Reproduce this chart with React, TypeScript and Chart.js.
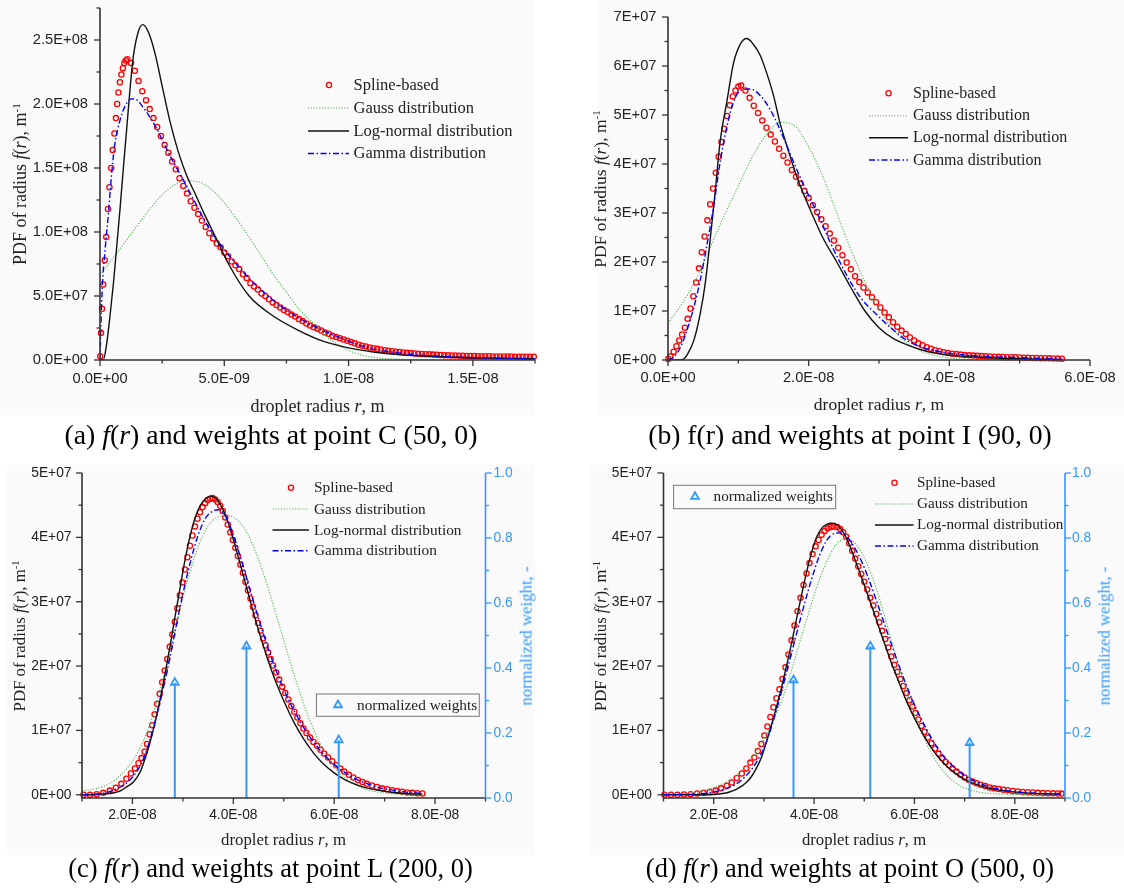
import React, { useEffect, useRef } from "react";
import { Chart, registerables } from "chart.js";

Chart.register(...registerables);

// ===== Data: r in nm (1E-09 m), f in 1E+07 m^-1, weights normalized =====
// (a) point C (50, 0)
const aSplineR = [0.01, 0.04, 0.08, 0.13, 0.19, 0.25, 0.32, 0.38, 0.45, 0.51, 0.58, 0.64, 0.69, 0.74, 0.8, 0.86, 0.92, 0.98, 1.04, 1.1,
  1.25, 1.4, 1.55, 1.7, 1.85, 2.0, 2.15, 2.3, 2.45, 2.6, 2.75, 2.9, 3.05, 3.2, 3.35, 3.5, 3.65, 3.8, 3.95, 4.1, 4.25, 4.4, 4.55, 4.7, 4.85,
  5.0, 5.15, 5.3, 5.45, 5.6, 5.75, 5.9, 6.05, 6.2, 6.35, 6.5, 6.65, 6.8, 6.95, 7.1, 7.25, 7.4, 7.55, 7.7, 7.85, 8.0, 8.15, 8.3, 8.45, 8.6,
  8.75, 8.9, 9.05, 9.2, 9.35, 9.5, 9.65, 9.8, 9.95, 10.1, 10.25, 10.4, 10.55, 10.7, 10.85, 11.0, 11.15, 11.3, 11.45, 11.6, 11.75, 11.9,
  12.05, 12.2, 12.35, 12.5, 12.65, 12.8, 12.95, 13.1, 13.25, 13.4, 13.55, 13.7, 13.85, 14.0, 14.15, 14.3, 14.45, 14.6, 14.75, 14.9, 15.05,
  15.2, 15.35, 15.5, 15.65, 15.8, 15.95, 16.1, 16.25, 16.4, 16.55, 16.7, 16.85, 17.0, 17.15, 17.3, 17.45];
const aSplineF = [0.3, 2.1, 4.0, 5.9, 7.8, 9.6, 11.8, 13.5, 15.0, 16.4, 17.7, 18.9, 20.0, 20.9, 21.7, 22.3, 22.8, 23.2, 23.4, 23.5,
  23.2, 22.6, 21.8, 21.0, 20.3, 19.6, 18.9, 18.2, 17.5, 16.8, 16.2, 15.5, 14.9, 14.2, 13.6, 13.0, 12.4, 11.9, 11.4, 10.9,
  10.4, 9.9, 9.5, 9.1, 8.8, 8.4, 8.1, 7.7, 7.4, 7.1, 6.7, 6.4, 6.0, 5.75, 5.5, 5.2, 5.0, 4.75, 4.5, 4.3,
  4.1, 3.9, 3.75, 3.55, 3.4, 3.2, 3.05, 2.85, 2.7, 2.55, 2.45, 2.3, 2.15, 2.05, 1.9, 1.8, 1.7, 1.6, 1.5, 1.4,
  1.3, 1.2, 1.12, 1.05, 0.98, 0.92, 0.87, 0.82, 0.77, 0.73, 0.69, 0.65, 0.62, 0.59, 0.56, 0.54, 0.51, 0.49, 0.47, 0.45,
  0.44, 0.42, 0.41, 0.4, 0.38, 0.37, 0.36, 0.35, 0.34, 0.33, 0.32, 0.31, 0.31, 0.3, 0.3, 0.29, 0.29, 0.28, 0.28, 0.28,
  0.27, 0.27, 0.27, 0.26, 0.26, 0.26, 0.26, 0.25, 0.25];
const aGaussR = [0, 0.5, 1.0, 1.5, 2.0, 2.5, 3.0, 3.5, 4.0, 4.5, 5.0, 5.5, 6.0, 6.5, 7.0, 7.5, 8.0, 8.5, 9.0, 9.5, 10.0, 10.5, 11.0, 12.0, 13.0, 14.0, 17.5];
const aGaussF = [6.6, 7.9, 9.2, 10.5, 11.8, 12.9, 13.7, 14.0, 13.9, 13.3, 12.3, 11.0, 9.6, 8.1, 6.6, 5.3, 4.0, 3.0, 2.0, 1.3, 0.75, 0.4, 0.2, 0.06, 0.02, 0, 0];
const aLogR = [0, 0.13, 0.27, 0.4, 0.54, 0.67, 0.81, 0.94, 1.08, 1.21, 1.34, 1.55, 1.72, 1.95, 2.22, 2.49, 2.82, 3.16, 3.49, 3.8, 4.2, 4.6, 5.2, 6.0, 7.0, 8.0, 9.0, 10.0, 11.0, 12.0, 13.5, 15.0, 17.5];
const aLogF = [0, 0, 1.3, 3.4, 6.0, 8.8, 11.9, 15.0, 18.2, 21.2, 23.7, 25.7, 26.2, 25.6, 23.9, 21.5, 18.6, 16.2, 14.4, 13.1, 11.4, 9.8, 7.4, 5.0, 3.4, 2.3, 1.45, 0.95, 0.63, 0.42, 0.27, 0.18, 0.1];
const aGammaR = [0, 0.05, 0.1, 0.2, 0.34, 0.47, 0.6, 0.8, 1.0, 1.28, 1.5, 1.75, 2.0, 2.3, 2.6, 3.0, 3.4, 3.8, 4.3, 4.85, 5.8, 6.7, 7.5, 8.5, 9.4, 10.7, 12.1, 14.7, 17.5];
const aGammaF = [0, 3.5, 6.0, 8.5, 11.5, 14.6, 16.9, 18.7, 19.8, 20.4, 20.3, 19.7, 19.0, 18.0, 16.8, 15.3, 13.9, 12.4, 10.6, 9.0, 6.8, 5.1, 3.9, 2.75, 1.95, 1.0, 0.53, 0.2, 0.08];

// (b) point I (90, 0)
const bSplineR = [0.05, 0.35, 0.8, 1.2, 1.6, 2.0, 2.4, 2.8, 3.2, 3.6, 4.0, 4.4, 4.8, 5.2, 5.6, 6.0, 6.4, 6.8, 7.2, 7.6, 8.0, 8.4, 8.8, 9.2, 9.6, 10.0, 10.4,
  11.0, 11.6, 12.2, 12.8, 13.4, 14.0, 14.6, 15.2, 15.8, 16.4, 17.0, 17.6, 18.2, 18.8, 19.4, 20.0, 20.6, 21.2, 21.8, 22.4, 23.0, 23.6, 24.2,
  24.8, 25.4, 26.0, 26.6, 27.2, 27.8, 28.4, 29.0, 29.6, 30.2, 30.8, 31.4, 32.0, 32.6, 33.2, 33.8, 34.4, 35.0, 35.6, 36.2, 36.8, 37.4, 38.0,
  38.6, 39.2, 39.8, 40.4, 41.0, 41.6, 42.2, 42.8, 43.4, 44.0, 44.6, 45.2, 45.8, 46.4, 47.0, 47.6, 48.2, 48.8, 49.4, 50.0, 50.6, 51.2, 51.8,
  52.4, 53.0, 53.6, 54.2, 54.8, 55.4, 56.0];
const bSplineF = [0.02, 0.07, 0.17, 0.28, 0.4, 0.52, 0.66, 0.84, 1.05, 1.3, 1.58, 1.87, 2.2, 2.52, 2.85, 3.18, 3.5, 3.82, 4.15, 4.45, 4.72, 4.98, 5.2, 5.38, 5.5, 5.58, 5.6,
  5.5, 5.35, 5.19, 5.04, 4.89, 4.74, 4.6, 4.46, 4.31, 4.17, 4.03, 3.88, 3.74, 3.6, 3.45, 3.31, 3.16, 3.02, 2.87, 2.73, 2.58, 2.44, 2.29,
  2.14, 1.99, 1.85, 1.71, 1.59, 1.48, 1.38, 1.28, 1.18, 1.07, 0.97, 0.87, 0.77, 0.68, 0.6, 0.53, 0.46, 0.4, 0.34, 0.3, 0.26, 0.23, 0.2,
  0.18, 0.16, 0.145, 0.13, 0.12, 0.11, 0.1, 0.095, 0.09, 0.085, 0.08, 0.075, 0.07, 0.067, 0.064, 0.061, 0.058, 0.056, 0.054, 0.051, 0.048,
  0.046, 0.043, 0.041, 0.038, 0.036, 0.034, 0.031, 0.029, 0.027];
const bGaussR = [0, 2, 4, 6, 8, 10, 12, 14, 16, 18, 20, 22, 24, 26, 28, 30, 32, 34, 36, 38, 40, 44, 56];
const bGaussF = [0.75, 1.15, 1.65, 2.3, 2.95, 3.55, 4.15, 4.6, 4.85, 4.78, 4.35, 3.75, 3.0, 2.25, 1.6, 1.05, 0.62, 0.35, 0.18, 0.09, 0.04, 0.01, 0];
const bLogR = [0, 1.5, 2.2, 2.7, 3.7, 4.6, 5.3, 6.0, 6.7, 7.4, 8.4, 9.3, 10.3, 11.2, 12.1, 13.1, 14.0, 15.0, 15.9, 16.9, 17.8, 18.7, 19.7, 20.6, 22.0, 24.0, 26.0, 28.0, 30.0, 32.0, 34.0, 36.0, 38.0, 40.0, 45.0, 50.0, 56.0];
const bLogF = [0, 0, 0.02, 0.1, 0.41, 0.96, 1.57, 2.46, 3.42, 4.44, 5.3, 6.05, 6.45, 6.56, 6.45, 6.22, 5.87, 5.4, 4.85, 4.37, 3.96, 3.59, 3.24, 2.94, 2.5, 2.0, 1.48, 1.0, 0.66, 0.44, 0.31, 0.21, 0.14, 0.1, 0.05, 0.025, 0.012];
const bGammaR = [0, 0.9, 1.8, 2.7, 3.7, 4.6, 5.5, 6.5, 7.4, 8.4, 9.3, 10.3, 11.7, 13.1, 14.5, 15.9, 17.3, 18.7, 20.1, 21.6, 23.0, 24.5, 26.0, 27.5, 29.5, 31.5, 34.3, 37.6, 42.4, 49.5, 56.1];
const bGammaF = [0, 0.07, 0.27, 0.61, 1.09, 1.64, 2.32, 3.14, 4.03, 4.78, 5.26, 5.5, 5.53, 5.4, 5.12, 4.71, 4.23, 3.76, 3.33, 2.88, 2.42, 1.98, 1.58, 1.25, 0.95, 0.68, 0.37, 0.2, 0.1, 0.05, 0.015];

// (c) point L (200, 0)
const cSplineR = [10.3, 11.6, 12.9, 14.2, 15.5, 16.7, 17.8, 18.8, 19.7, 20.5, 21.2, 21.8, 22.4, 22.9, 23.4, 23.9, 24.4, 24.9, 25.4, 25.9,
  26.4, 26.9, 27.4, 27.9, 28.4, 28.9, 29.4, 29.9, 30.4, 30.9, 31.4, 31.9, 32.4, 32.9, 33.4, 33.9, 34.4, 34.9, 35.4, 35.9,
  36.4, 36.9, 37.4, 37.9, 38.4, 38.9, 39.4, 39.9, 40.4, 40.9, 41.4, 41.9, 42.4, 42.9, 43.4, 43.9, 44.4, 44.9, 45.4, 45.9, 46.4, 46.9, 47.4, 47.9,
  48.5, 49.1, 49.7, 50.3, 50.9, 51.5, 52.1, 52.7, 53.3, 53.9, 54.5, 55.2, 55.9, 56.6, 57.3, 58.0, 58.8, 59.6, 60.4, 61.2, 62.0,
  62.9, 63.8, 64.7, 65.6, 66.5, 67.5, 68.5, 69.5, 70.5, 71.5, 72.5, 73.5, 74.5, 75.5, 76.5, 77.5];
const cSplineF = [0, 0, 0.01, 0.03, 0.065, 0.11, 0.17, 0.25, 0.33, 0.41, 0.49, 0.57, 0.67, 0.79, 0.94, 1.08, 1.25, 1.41, 1.57, 1.75,
  1.93, 2.11, 2.3, 2.49, 2.69, 2.9, 3.1, 3.3, 3.5, 3.69, 3.87, 4.03, 4.17, 4.29, 4.39, 4.47, 4.53, 4.58, 4.6, 4.61,
  4.59, 4.55, 4.49, 4.41, 4.31, 4.2, 4.08, 3.96, 3.84, 3.71, 3.58, 3.45, 3.31, 3.18, 3.05, 2.92, 2.79, 2.67, 2.55, 2.43, 2.32, 2.21, 2.11, 2.01,
  1.9, 1.79, 1.68, 1.58, 1.48, 1.38, 1.29, 1.2, 1.11, 1.03, 0.96, 0.89, 0.82, 0.76, 0.7, 0.64, 0.58, 0.52, 0.46, 0.41, 0.36,
  0.31, 0.27, 0.23, 0.2, 0.17, 0.145, 0.12, 0.1, 0.085, 0.07, 0.057, 0.046, 0.037, 0.03, 0.024, 0.02];
const cGaussR = [10, 13, 16, 19, 21, 23, 25, 27, 29, 31, 33, 35, 37, 38.5, 40, 42, 44, 46, 48, 50, 52, 54, 56, 58, 60, 62, 64, 66, 68, 70, 73, 77.5];
const cGaussF = [0.06, 0.1, 0.2, 0.42, 0.65, 1.0, 1.5, 2.1, 2.75, 3.35, 3.85, 4.18, 4.32, 4.34, 4.31, 4.16, 3.86, 3.43, 2.93, 2.4, 1.88, 1.4, 1.0, 0.68, 0.44, 0.27, 0.16, 0.09, 0.05, 0.025, 0.01, 0.002];
const cLogR = [10, 13, 15, 16.5, 17.8, 19.0, 20.2, 21.5, 22.5, 23.5, 24.5, 25.5, 26.5, 27.5, 28.5, 29.5, 30.5, 31.5, 32.5, 33.5, 34.5, 35.5, 36.5, 37.5, 38.5, 39.5, 40.5, 41.5, 42.5, 43.5, 44.5, 45.5, 46.5, 47.5, 48.5, 50, 52, 54, 56, 58, 60, 62, 64, 66, 68, 70, 72, 74, 77.5];
const cLogF = [0, 0.005, 0.015, 0.035, 0.07, 0.13, 0.2, 0.35, 0.56, 0.82, 1.13, 1.49, 1.89, 2.33, 2.79, 3.24, 3.68, 4.04, 4.32, 4.5, 4.6, 4.64, 4.61, 4.5, 4.33, 4.1, 3.83, 3.55, 3.26, 2.97, 2.69, 2.43, 2.18, 1.95, 1.74, 1.46, 1.13, 0.86, 0.64, 0.47, 0.34, 0.24, 0.17, 0.115, 0.08, 0.055, 0.035, 0.02, 0.01];
const cGammaR = [10, 12, 14, 16.2, 18, 19.5, 21, 22.5, 24, 25.5, 27, 28.5, 30, 31.5, 33, 34.5, 36, 37, 38, 39, 40, 41, 42, 43, 44, 45, 46, 47, 48, 49.5, 51, 53, 55, 57, 59, 61, 63, 65, 67, 69, 71, 74, 77.5];
const cGammaF = [0, 0.005, 0.02, 0.07, 0.14, 0.23, 0.38, 0.62, 1.0, 1.45, 1.97, 2.55, 3.12, 3.62, 4.03, 4.3, 4.41, 4.43, 4.38, 4.24, 4.04, 3.8, 3.54, 3.27, 3.0, 2.74, 2.49, 2.25, 2.03, 1.73, 1.47, 1.17, 0.92, 0.71, 0.54, 0.41, 0.3, 0.22, 0.16, 0.11, 0.08, 0.045, 0.02];
const cWeightR = [28.4, 42.6, 60.9];
const cWeightW = [0.355, 0.467, 0.178];

// (d) point O (500, 0)
const dSplineR = [10.2, 11.5, 12.8, 14.1, 15.4, 16.7, 18.0, 19.2, 20.4, 21.5, 22.6, 23.6, 24.6, 25.6, 26.5, 27.3, 28.1, 28.8, 29.5,
  30.1, 30.7, 31.3, 31.9, 32.5, 33.1, 33.7, 34.3, 34.9, 35.5, 36.1, 36.7, 37.3, 37.9, 38.5, 39.1, 39.7, 40.3, 40.9, 41.5, 42.1, 42.7, 43.3, 43.9,
  44.6, 45.2, 45.8, 46.4, 47.0, 47.6, 48.2, 48.8, 49.4, 50.0, 50.6, 51.2, 51.8, 52.4, 53.0, 53.6, 54.2, 54.8, 55.4, 56.0,
  56.6, 57.2, 57.8, 58.4, 59.0, 59.6, 60.2, 60.8, 61.4, 62.0, 62.7, 63.4, 64.1, 64.8, 65.5, 66.2, 66.9, 67.6,
  68.4, 69.2, 70.0, 70.8, 71.6, 72.4, 73.2, 74.1, 75.0, 75.9, 76.8, 77.7, 78.6, 79.6, 80.6, 81.6, 82.6, 83.6, 84.6, 85.6, 86.6, 87.6, 88.6, 89.3];
const dSplineF = [0, 0, 0, 0.005, 0.01, 0.02, 0.03, 0.045, 0.065, 0.1, 0.14, 0.19, 0.26, 0.33, 0.41, 0.5, 0.58, 0.68, 0.79,
  0.92, 1.06, 1.21, 1.36, 1.5, 1.64, 1.8, 1.98, 2.18, 2.4, 2.63, 2.85, 3.06, 3.26, 3.44, 3.6, 3.74, 3.86, 3.96, 4.04, 4.1, 4.14, 4.16, 4.17,
  4.16, 4.13, 4.08, 4.01, 3.91, 3.79, 3.67, 3.55, 3.43, 3.31, 3.19, 3.06, 2.94, 2.81, 2.68, 2.55, 2.42, 2.29, 2.15, 2.02,
  1.91, 1.8, 1.69, 1.58, 1.47, 1.37, 1.27, 1.17, 1.07, 0.98, 0.89, 0.8, 0.72, 0.64, 0.57, 0.51, 0.46, 0.41,
  0.36, 0.31, 0.27, 0.235, 0.205, 0.18, 0.155, 0.135, 0.115, 0.1, 0.09, 0.08, 0.07, 0.06, 0.052, 0.045, 0.04, 0.035, 0.03, 0.027, 0.024, 0.022, 0.02, 0.018];
const dGaussR = [10, 14, 17, 19.5, 22, 24.5, 26.5, 28.5, 30.5, 32.5, 34.5, 36.5, 38.5, 40.5, 42.5, 44.5, 46.5, 48.5, 50.5, 52.5, 54.5, 56.5, 58.5, 60.5, 62.5, 64.5, 66.5, 68.5, 70.5, 73, 76, 80, 89];
const dGaussF = [0.01, 0.02, 0.05, 0.1, 0.18, 0.3, 0.46, 0.66, 0.93, 1.26, 1.67, 2.2, 2.72, 3.22, 3.62, 3.9, 3.98, 3.88, 3.6, 3.18, 2.65, 2.1, 1.6, 1.15, 0.78, 0.5, 0.3, 0.17, 0.09, 0.04, 0.015, 0.004, 0];
const dLogR = [10, 18, 20, 21.8, 23, 24.4, 25.5, 26.5, 27.5, 28.5, 29.5, 30.5, 31.5, 32.5, 33.5, 34.5, 35.5, 36.5, 37.5, 38.5, 39.5, 40.5, 41.5, 42.5, 43.5, 44.5, 45.5, 46.5, 47.5, 48.5, 49.5, 50.5, 51.5, 52.5, 53.5, 54.5, 55.5, 56.5, 57.5, 58.5, 60, 62, 64, 66, 68, 70, 72, 75, 78, 82, 86, 89];
const dLogF = [0, 0, 0.005, 0.02, 0.04, 0.08, 0.13, 0.19, 0.28, 0.41, 0.58, 0.82, 1.08, 1.36, 1.66, 2.0, 2.35, 2.73, 3.1, 3.46, 3.76, 4.0, 4.14, 4.2, 4.22, 4.2, 4.12, 3.98, 3.79, 3.58, 3.37, 3.15, 2.93, 2.7, 2.47, 2.25, 2.03, 1.83, 1.63, 1.44, 1.19, 0.9, 0.66, 0.48, 0.34, 0.24, 0.17, 0.1, 0.06, 0.03, 0.015, 0.01];
const dGammaR = [10, 14, 18, 21, 23, 24.5, 26, 27.5, 29, 30.5, 32, 33.5, 35, 36.5, 38, 39.5, 41, 42.5, 44, 45.2, 46.5, 48, 49.5, 51, 52.5, 54, 55.5, 57, 58.5, 60, 62, 64, 66, 68, 70, 72, 75, 78, 82, 86, 89];
const dGammaF = [0, 0.005, 0.02, 0.06, 0.11, 0.17, 0.26, 0.39, 0.57, 0.82, 1.18, 1.6, 2.05, 2.5, 2.94, 3.35, 3.7, 3.95, 4.06, 4.07, 4.01, 3.85, 3.62, 3.33, 3.0, 2.66, 2.32, 1.99, 1.68, 1.4, 1.08, 0.8, 0.58, 0.42, 0.3, 0.21, 0.12, 0.07, 0.035, 0.018, 0.01];
const dWeightR = [35.9, 51.2, 71.0];
const dWeightW = [0.363, 0.467, 0.17];

// ===== Tick values =====
const aXTicks = [0, 2.5, 5, 7.5, 10, 12.5, 15, 17.5];
const aXMajor = [0, 5, 10, 15];
const aYTicks = [0, 2.5, 5, 7.5, 10, 12.5, 15, 17.5, 20, 22.5, 25, 27.5];
const aYMajor = [0, 5, 10, 15, 20, 25];
const bXTicks = [0, 10, 20, 30, 40, 50, 60];
const bXMajor = [0, 20, 40, 60];
const bYTicks = [0, 0.5, 1, 1.5, 2, 2.5, 3, 3.5, 4, 4.5, 5, 5.5, 6, 6.5, 7];
const bYMajor = [0, 1, 2, 3, 4, 5, 6, 7];
const cdXTicks = [10, 20, 30, 40, 50, 60, 70, 80, 90];
const cdXMajor = [20, 40, 60, 80];
const cdYTicks = [0, 0.5, 1, 1.5, 2, 2.5, 3, 3.5, 4, 4.5, 5];
const cdYMajor = [0, 1, 2, 3, 4, 5];
const wTicks = [0, 0.1, 0.2, 0.3, 0.4, 0.5, 0.6, 0.7, 0.8, 0.9, 1.0];
const wMajor = [0, 0.2, 0.4, 0.6, 0.8, 1.0];

// ===== Styles =====
const SERIF = '"Liberation Serif", "Times New Roman", serif';
const SANS = '"Liberation Sans", Arial, sans-serif';
const RED = "#ff0000";
const GREEN = "#52b552";
const BLACK = "#111111";
const BLUE = "#0000ff";
const WBLUE = "#3399ff";
const AXIS = "#333333";
const TXT = "#222222";
const PANEL_BG = "#fafafa";

function fmtE(v: number, d: number): string {
  if (v === 0) return (0).toFixed(d) + "E+00";
  const s = v.toExponential(d);
  const parts = s.split("e");
  const n = Math.abs(parseInt(parts[1], 10));
  const sign = parts[1][0] === "-" ? "-" : "+";
  return parts[0] + "E" + sign + (n < 10 ? "0" + n : String(n));
}

function pts(r: number[], f: number[]) {
  const n = Math.min(r.length, f.length);
  const out: { x: number; y: number }[] = [];
  for (let i = 0; i < n; i++) out.push({ x: r[i], y: f[i] });
  return out;
}

type Panel = {
  id: string;
  cv: { left: number; top: number; w: number; h: number };
  area: { l: number; t: number; r: number; b: number };
  x: { min: number; max: number; ticks: number[]; major: number[]; dec: number; pad: number };
  y: { min: number; max: number; ticks: number[]; major: number[]; dec: number; pad: number };
  w?: { pad: number };
  tickFont: number;
  legendFont: number;
  spline: [number[], number[]];
  gauss: [number[], number[]];
  logn: [number[], number[]];
  gamma: [number[], number[]];
  weights?: [number[], number[]];
  legend: { marker: number; l1: number; l2: number; text: number; rows: number[] };
  wLegend?: { box: [number, number, number, number]; tri: [number, number]; text: number };
};

const panels: Panel[] = [
  {
    id: "a",
    cv: { left: 0, top: 0, w: 562, h: 420 },
    area: { l: 100, t: 8, r: 535, b: 360 },
    x: { min: 0, max: 17.5, ticks: aXTicks, major: aXMajor, dec: 1, pad: 10 },
    y: { min: 0, max: 27.5, ticks: aYTicks, major: aYMajor, dec: 1, pad: 12 },
    tickFont: 14.7,
    legendFont: 16.5,
    spline: [aSplineR, aSplineF],
    gauss: [aGaussR, aGaussF],
    logn: [aLogR, aLogF],
    gamma: [aGammaR, aGammaF],
    legend: { marker: 329, l1: 308, l2: 349, text: 353.5, rows: [85, 108, 131, 153.5] },
  },
  {
    id: "b",
    cv: { left: 562, top: 0, w: 562, h: 420 },
    area: { l: 668, t: 17, r: 1090, b: 360 },
    x: { min: 0, max: 60, ticks: bXTicks, major: bXMajor, dec: 1, pad: 9 },
    y: { min: 0, max: 7, ticks: bYTicks, major: bYMajor, dec: 0, pad: 11.5 },
    tickFont: 14.7,
    legendFont: 16,
    spline: [bSplineR, bSplineF],
    gauss: [bGaussR, bGaussF],
    logn: [bLogR, bLogF],
    gamma: [bGammaR, bGammaF],
    legend: { marker: 888.5, l1: 869, l2: 908, text: 913, rows: [93.3, 115.7, 137.7, 160] },
  },
  {
    id: "c",
    cv: { left: 0, top: 440, w: 562, h: 440 },
    area: { l: 82, t: 473, r: 485.5, b: 798 },
    x: { min: 10, max: 90, ticks: cdXTicks, major: cdXMajor, dec: 1, pad: 8.5 },
    y: { min: -0.05, max: 5, ticks: cdYTicks, major: cdYMajor, dec: 0, pad: 10.5 },
    w: { pad: 8 },
    tickFont: 13.8,
    legendFont: 15.3,
    spline: [cSplineR, cSplineF],
    gauss: [cGaussR, cGaussF],
    logn: [cLogR, cLogF],
    gamma: [cGammaR, cGammaF],
    weights: [cWeightR, cWeightW],
    legend: { marker: 291, l1: 272.5, l2: 309, text: 314, rows: [487.7, 509, 530, 550.7] },
    wLegend: { box: [316.4, 694, 479.3, 716.3], tri: [338, 705], text: 357 },
  },
  {
    id: "d",
    cv: { left: 562, top: 440, w: 562, h: 440 },
    area: { l: 663.5, t: 473, r: 1065, b: 798 },
    x: { min: 10, max: 90, ticks: cdXTicks, major: cdXMajor, dec: 1, pad: 8.5 },
    y: { min: -0.05, max: 5, ticks: cdYTicks, major: cdYMajor, dec: 0, pad: 11.5 },
    w: { pad: 7 },
    tickFont: 13.8,
    legendFont: 15.2,
    spline: [dSplineR, dSplineF],
    gauss: [dGaussR, dGaussF],
    logn: [dLogR, dLogF],
    gamma: [dGammaR, dGammaF],
    weights: [dWeightR, dWeightW],
    legend: { marker: 894.5, l1: 875, l2: 913.5, text: 917, rows: [482.7, 504, 525, 546] },
    wLegend: { box: [673.6, 485.3, 835.7, 508.7], tri: [695, 496.7], text: 713.6 },
  },
];

function makeDecoPlugin(p: Panel) {
  const ox = p.cv.left;
  const oy = p.cv.top;
  return {
    id: "deco_" + p.id,
    afterDraw(chart: any) {
      const ctx = chart.ctx as CanvasRenderingContext2D;
      const ca = chart.chartArea;
      const xs = chart.scales.x;
      const ys = chart.scales.y;
      ctx.save();
      ctx.lineCap = "butt";
      ctx.strokeStyle = AXIS;
      ctx.lineWidth = 1.6;
      ctx.beginPath();
      ctx.moveTo(ca.left, ca.top);
      ctx.lineTo(ca.left, ca.bottom);
      ctx.lineTo(ca.right, ca.bottom);
      ctx.stroke();
      ctx.lineWidth = 1.3;
      for (const v of p.x.ticks) {
        const px = xs.getPixelForValue(v);
        const len = p.x.major.includes(v) ? 6 : 3.5;
        ctx.beginPath();
        ctx.moveTo(px, ca.bottom);
        ctx.lineTo(px, ca.bottom + len);
        ctx.stroke();
      }
      for (const v of p.y.ticks) {
        const py = ys.getPixelForValue(v);
        const len = p.y.major.includes(v) ? 6 : 3.5;
        ctx.beginPath();
        ctx.moveTo(ca.left, py);
        ctx.lineTo(ca.left - len, py);
        ctx.stroke();
      }
      if (p.w && chart.scales.y1) {
        const ws = chart.scales.y1;
        ctx.strokeStyle = WBLUE;
        ctx.lineWidth = 1.6;
        ctx.beginPath();
        ctx.moveTo(ca.right, ca.top);
        ctx.lineTo(ca.right, ca.bottom);
        ctx.stroke();
        ctx.lineWidth = 1.3;
        for (const v of wTicks) {
          const py = ws.getPixelForValue(v);
          const len = wMajor.includes(v) ? 6 : 3.5;
          ctx.beginPath();
          ctx.moveTo(ca.right, py);
          ctx.lineTo(ca.right + len, py);
          ctx.stroke();
        }
      }
      const L = p.legend;
      const rows = L.rows.map((r) => r - oy);
      ctx.font = `${p.legendFont}px ${SERIF}`;
      ctx.fillStyle = TXT;
      ctx.textBaseline = "middle";
      ctx.textAlign = "left";
      const labels = ["Spline-based", "Gauss distribution", "Log-normal distribution", "Gamma distribution"];
      labels.forEach((t, i) => ctx.fillText(t, L.text - ox, rows[i] + 0.5));
      ctx.strokeStyle = RED;
      ctx.lineWidth = 1.3;
      ctx.beginPath();
      ctx.arc(L.marker - ox, rows[0], 2.6, 0, Math.PI * 2);
      ctx.stroke();
      const seg = (y: number, color: string, w: number, dash: number[]) => {
        ctx.strokeStyle = color;
        ctx.lineWidth = w;
        ctx.setLineDash(dash);
        ctx.beginPath();
        ctx.moveTo(L.l1 - ox, y);
        ctx.lineTo(L.l2 - ox, y);
        ctx.stroke();
        ctx.setLineDash([]);
      };
      seg(rows[1], GREEN, 1.1, [1.2, 1.6]);
      seg(rows[2], BLACK, 1.4, []);
      seg(rows[3], BLUE, 1.4, [6, 2.5, 1.5, 2.5]);
      if (p.wLegend) {
        const W = p.wLegend;
        ctx.strokeStyle = "#777777";
        ctx.lineWidth = 1;
        ctx.strokeRect(W.box[0] - ox, W.box[1] - oy, W.box[2] - W.box[0], W.box[3] - W.box[1]);
        const tx = W.tri[0] - ox;
        const ty = W.tri[1] - oy;
        const r = 4.5;
        ctx.strokeStyle = WBLUE;
        ctx.lineWidth = 1.8;
        ctx.beginPath();
        ctx.moveTo(tx, ty - r);
        ctx.lineTo(tx + r * 0.866, ty + r * 0.5);
        ctx.lineTo(tx - r * 0.866, ty + r * 0.5);
        ctx.closePath();
        ctx.stroke();
        ctx.fillStyle = TXT;
        ctx.fillText("normalized weights", W.text - ox, ty + 0.5);
      }
      ctx.restore();
    },
  };
}

function buildChart(canvas: HTMLCanvasElement, p: Panel) {
  const aL = p.area.l - p.cv.left;
  const aT = p.area.t - p.cv.top;
  const aR = p.area.r - p.cv.left;
  const aB = p.area.b - p.cv.top;
  const datasets: any[] = [];
  if (p.weights) {
    const [wr, ww] = p.weights;
    const stem: any[] = [];
    wr.forEach((r, i) => {
      stem.push({ x: r, y: 0 }, { x: r, y: ww[i] }, { x: r, y: null });
    });
    datasets.push({
      label: "normalized weights",
      data: pts(wr, ww),
      yAxisID: "y1",
      showLine: false,
      pointStyle: "triangle",
      pointRadius: 4.5,
      pointBorderWidth: 1.8,
      pointBorderColor: WBLUE,
      pointBackgroundColor: "rgba(0,0,0,0)",
      clip: false,
    });
    datasets.push({
      label: "weight stems",
      data: stem,
      yAxisID: "y1",
      showLine: true,
      spanGaps: false,
      borderColor: WBLUE,
      borderWidth: 2,
      pointRadius: 0,
    });
  }
  const lineDs = (label: string, s: [number[], number[]], color: string, width: number, dash: number[]) => ({
    label,
    data: pts(s[0], s[1]),
    yAxisID: "y",
    showLine: true,
    borderColor: color,
    borderWidth: width,
    borderDash: dash,
    pointRadius: 0,
    cubicInterpolationMode: "monotone",
    fill: false,
  });
  datasets.push(lineDs("Gamma distribution", p.gamma, BLUE, 1.4, [6, 2.5, 1.5, 2.5]));
  datasets.push(lineDs("Log-normal distribution", p.logn, BLACK, 1.4, []));
  datasets.push(lineDs("Gauss distribution", p.gauss, GREEN, 1.1, [1.2, 1.6]));
  datasets.push({
    label: "Spline-based",
    data: pts(p.spline[0], p.spline[1]),
    yAxisID: "y",
    showLine: false,
    pointStyle: "circle",
    pointRadius: 2.6,
    pointBorderWidth: 1.3,
    pointBorderColor: RED,
    pointBackgroundColor: "rgba(0,0,0,0)",
    clip: false,
  });

  const tickFont = { family: SANS, size: p.tickFont };
  const scales: any = {
    x: {
      type: "linear",
      min: p.x.min,
      max: p.x.max,
      afterBuildTicks: (s: any) => {
        s.ticks = p.x.ticks.map((v) => ({ value: v }));
      },
      afterFit: (s: any) => {
        s.height = p.cv.h - aB;
        s.paddingLeft = 0;
        s.paddingRight = 0;
      },
      grid: { display: false, drawTicks: false },
      border: { display: false },
      ticks: {
        autoSkip: false,
        maxRotation: 0,
        minRotation: 0,
        padding: p.x.pad,
        color: TXT,
        font: tickFont,
        callback: (v: number) => (p.x.major.includes(v) ? fmtE(v * 1e-9, p.x.dec) : ""),
      },
    },
    y: {
      type: "linear",
      position: "left",
      min: p.y.min,
      max: p.y.max,
      afterBuildTicks: (s: any) => {
        s.ticks = p.y.ticks.map((v) => ({ value: v }));
      },
      afterFit: (s: any) => {
        s.width = aL;
        s.paddingTop = 0;
        s.paddingBottom = 0;
      },
      grid: { display: false, drawTicks: false },
      border: { display: false },
      ticks: {
        autoSkip: false,
        padding: p.y.pad,
        color: TXT,
        font: tickFont,
        callback: (v: number) => (p.y.major.includes(v) ? fmtE(v * 1e7, p.y.dec) : ""),
      },
    },
  };
  if (p.w) {
    scales.y1 = {
      type: "linear",
      position: "right",
      min: 0,
      max: 1,
      afterBuildTicks: (s: any) => {
        s.ticks = wTicks.map((v) => ({ value: v }));
      },
      afterFit: (s: any) => {
        s.width = p.cv.w - aR;
        s.paddingTop = 0;
        s.paddingBottom = 0;
      },
      grid: { display: false, drawTicks: false },
      border: { display: false },
      ticks: {
        autoSkip: false,
        padding: p.w.pad,
        color: WBLUE,
        font: tickFont,
        callback: (v: number) => (wMajor.includes(v) ? v.toFixed(1) : ""),
      },
    };
  }

  return new Chart(canvas, {
    type: "scatter",
    data: { datasets },
    options: {
      responsive: false,
      maintainAspectRatio: false,
      devicePixelRatio: 1,
      animation: false,
      events: [],
      layout: { padding: { left: 0, top: aT, right: p.w ? 0 : p.cv.w - aR, bottom: 0 } },
      plugins: { legend: { display: false }, tooltip: { enabled: false }, title: { display: false } },
      scales,
    } as any,
    plugins: [makeDecoPlugin(p)],
  });
}

function PanelCanvas({ p }: { p: Panel }) {
  const ref = useRef<HTMLCanvasElement | null>(null);
  useEffect(() => {
    if (!ref.current) return;
    const chart = buildChart(ref.current, p);
    return () => chart.destroy();
  }, [p]);
  return (
    <canvas
      ref={ref}
      width={p.cv.w}
      height={p.cv.h}
      style={{ position: "absolute", left: p.cv.left, top: p.cv.top, width: p.cv.w, height: p.cv.h }}
    />
  );
}

function Txt(props: { x: number; y: number; size: number; color?: string; rotate?: boolean; children: React.ReactNode }) {
  return (
    <div
      style={{
        position: "absolute",
        left: props.x,
        top: props.y,
        transform: `translate(-50%, -50%)${props.rotate ? " rotate(-90deg)" : ""}`,
        fontFamily: SERIF,
        fontSize: props.size,
        color: props.color || TXT,
        whiteSpace: "nowrap",
        lineHeight: 1,
      }}
    >
      {props.children}
    </div>
  );
}

const Sup = ({ children }: { children: React.ReactNode }) => (
  <span style={{ fontSize: "0.62em", position: "relative", top: "-0.55em" }}>{children}</span>
);

function YTitle() {
  return (
    <span>
      PDF of radius <i>f</i>(<i>r</i>), m<Sup>-1</Sup>
    </span>
  );
}
function XTitle() {
  return (
    <span>
      droplet radius <i>r</i>, m
    </span>
  );
}

export default function App() {
  return (
    <div style={{ position: "absolute", left: 0, top: 0, width: 1124, height: 888, background: "#ffffff", overflow: "hidden" }}>
      <div style={{ position: "absolute", left: 0, top: 0, width: 535, height: 415, background: PANEL_BG }} />
      <div style={{ position: "absolute", left: 597, top: 0, width: 527, height: 415, background: PANEL_BG }} />
      <div style={{ position: "absolute", left: 7, top: 465, width: 528, height: 390, background: PANEL_BG }} />
      <div style={{ position: "absolute", left: 590, top: 465, width: 534, height: 390, background: PANEL_BG }} />
      {panels.map((p) => (
        <PanelCanvas key={p.id} p={p} />
      ))}
      <Txt x={19.6} y={184} size={18} rotate><YTitle /></Txt>
      <Txt x={601} y={188.5} size={17.5} rotate><YTitle /></Txt>
      <Txt x={19.6} y={635.5} size={16.8} rotate><YTitle /></Txt>
      <Txt x={601} y={635.5} size={16.7} rotate><YTitle /></Txt>
      <Txt x={527} y={635.5} size={16.8} rotate color={WBLUE}>normalized weight, -</Txt>
      <Txt x={1104.6} y={635.5} size={16.7} rotate color={WBLUE}>normalized weight, -</Txt>
      <Txt x={317.5} y={406} size={18}><XTitle /></Txt>
      <Txt x={879} y={405} size={17.5}><XTitle /></Txt>
      <Txt x={283.5} y={840} size={16.8}><XTitle /></Txt>
      <Txt x={864} y={840} size={16.7}><XTitle /></Txt>
      <Txt x={271} y={435} size={27.8} color="#000">
        (a) <i>f</i>(<i>r</i>) and weights at point C (50, 0)
      </Txt>
      <Txt x={850} y={435} size={27.7} color="#000">
        (b) f(r) and weights at point I (90, 0)
      </Txt>
      <Txt x={270.5} y={868} size={26.5} color="#000">
        (c) <i>f</i>(<i>r</i>) and weights at point L (200, 0)
      </Txt>
      <Txt x={850} y={868} size={26.4} color="#000">
        (d) <i>f</i>(<i>r</i>) and weights at point O (500, 0)
      </Txt>
    </div>
  );
}
